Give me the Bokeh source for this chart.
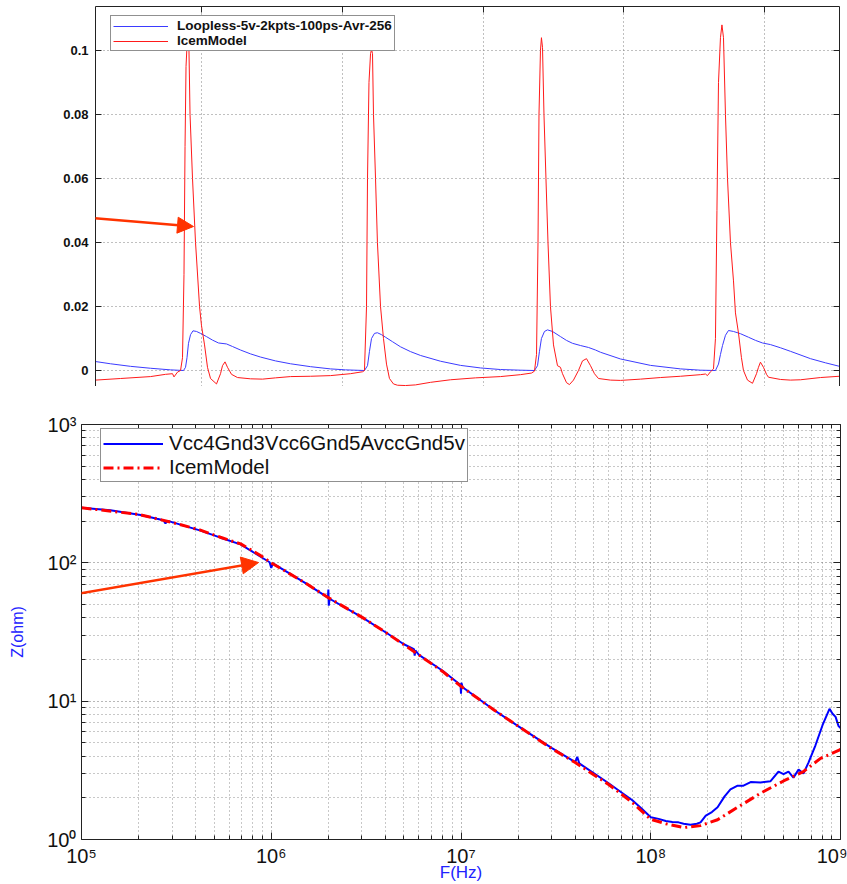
from bokeh.plotting import figure
from bokeh.models import (LinearAxis, FixedTicker, Legend, LegendItem, Arrow,
                          NormalHead, CustomJSTickFormatter, Range1d)
from bokeh.embed import file_html
from bokeh.resources import INLINE

# ---------------- top panel: time-domain current (time in ns) ----------------
red_t = [4.94, 8.49, 12.76, 14.89, 15.88, 16.09, 16.59, 17.02, 17.30, 17.51, 17.66, 17.80, 17.94,
         18.08, 18.22, 18.37, 18.72, 19.15, 19.72, 20.00, 20.43, 20.85, 21.28, 22.13, 22.70, 22.98,
         23.34, 23.69, 24.26, 25.11, 26.96, 28.66, 30.51, 32.64, 35.48, 38.32, 41.16, 42.87,
         43.15, 43.44, 43.58, 43.79, 44.01, 44.15, 44.29, 44.43, 44.72, 44.99, 45.43, 45.85, 46.28,
         46.70, 47.27, 47.84, 48.98, 50.40, 52.53, 55.37, 58.92, 62.47, 65.31, 66.88, 67.30,
         67.59, 67.80, 67.94, 68.15, 68.29, 68.44, 68.65, 68.93, 69.22, 69.57, 70.00, 70.57, 70.99,
         71.28, 71.85, 72.27, 72.84, 73.55, 74.12, 74.69, 75.26, 75.82, 76.39, 78.10, 79.52, 82.36,
         85.20, 88.04, 90.88, 91.59, 91.87, 92.30, 92.73,
         93.01, 93.22, 93.44, 93.72, 93.93, 94.15, 94.43, 94.72, 95.14, 95.57, 95.85, 96.28, 96.70,
         96.99, 97.56, 98.27, 98.84, 99.12, 99.40, 99.83, 100.26, 100.54, 102.24, 103.66, 105.09,
         107.93, 110.63]
red_i = [-0.0030, -0.0025, -0.0019, -0.0012, -0.0010, -0.0020, -0.0005, 0.0000, 0.0040, 0.0300,
         0.0700, 0.0950, 0.1015, 0.1025, 0.1000, 0.0800, 0.0600, 0.0400, 0.0200, 0.0140, 0.0080,
         0.0010, -0.0025, -0.0042, -0.0010, 0.0015, 0.0027, 0.0010, -0.0012, -0.0022, -0.0026,
         -0.0027, -0.0023, -0.0019, -0.0018, -0.0016, -0.0010, -0.0004,
         0.0000, 0.0200, 0.0600, 0.0900, 0.0990, 0.1003, 0.0990, 0.0800, 0.0600, 0.0400, 0.0200,
         0.0100, 0.0020, -0.0025, -0.0042, -0.0046, -0.0047, -0.0045, -0.0037, -0.0029, -0.0023,
         -0.0019, -0.0013, -0.0008, -0.0002,
         0.0050, 0.0400, 0.0800, 0.1000, 0.1040, 0.1010, 0.0800, 0.0600, 0.0400, 0.0200, 0.0080,
         0.0015, 0.0010, -0.0010, -0.0038, -0.0044, -0.0030, 0.0000, 0.0030, 0.0037, 0.0015,
         -0.0010, -0.0025, -0.0030, -0.0031, -0.0027, -0.0022, -0.0018, -0.0013, -0.0011, -0.0016,
         -0.0004, 0.0005,
         0.0100, 0.0500, 0.0900, 0.1040, 0.1080, 0.1040, 0.0800, 0.0600, 0.0400, 0.0280, 0.0180,
         0.0117, 0.0040, 0.0000, -0.0030, -0.0040, -0.0010, 0.0010, 0.0026, 0.0010, -0.0012,
         -0.0021, -0.0028, -0.0030, -0.0029, -0.0022, -0.0018]

blue_t = [4.94, 7.07, 9.91, 12.76, 15.60, 17.44, 17.73, 17.94, 18.15, 18.44, 18.79, 19.29, 19.86,
          20.71, 21.56, 22.41, 23.55, 24.40, 25.54, 26.96, 28.38, 30.51, 32.64, 35.48, 38.32, 40.45,
          43.15, 43.58, 43.86, 44.15, 44.57, 44.99, 45.57, 46.14, 47.13, 48.27, 49.69, 51.11, 53.95,
          56.79, 59.63, 62.47, 65.31,
          67.30, 67.73, 68.01, 68.29, 68.72, 69.15, 69.86, 70.99, 71.85, 72.70, 73.84, 74.97, 75.97,
          76.68, 79.52, 83.78, 88.04, 90.88,
          93.01, 93.44, 93.72, 94.01, 94.43, 94.86, 95.57, 96.56, 97.70, 98.71, 99.69, 100.82,
          102.24, 103.66, 106.51, 108.64, 110.63]
blue_i = [0.0028, 0.0021, 0.0013, 0.0007, 0.0002, 0.0000, 0.0010, 0.0040, 0.0085, 0.0112, 0.0124,
          0.0122, 0.0116, 0.0106, 0.0095, 0.0086, 0.0083, 0.0075, 0.0064, 0.0052, 0.0042, 0.0030,
          0.0021, 0.0012, 0.0005, 0.0002,
          0.0000, 0.0015, 0.0060, 0.0100, 0.0116, 0.0118, 0.0112, 0.0104, 0.0090, 0.0074, 0.0059,
          0.0047, 0.0029, 0.0016, 0.0008, 0.0003, 0.0001,
          0.0000, 0.0015, 0.0060, 0.0100, 0.0122, 0.0127, 0.0122, 0.0106, 0.0094, 0.0085, 0.0078,
          0.0072, 0.0064, 0.0057, 0.0036, 0.0016, 0.0005, 0.0001,
          0.0000, 0.0020, 0.0050, 0.0078, 0.0110, 0.0125, 0.0122, 0.0115, 0.0104, 0.0094, 0.0086,
          0.0081, 0.0071, 0.0060, 0.0037, 0.0024, 0.0013]

top_labels = ["Loopless-5v-2kpts-100ps-Avr-256", "IcemModel"]
top_yticks = [0, 0.02, 0.04, 0.06, 0.08, 0.1]
top_xticks = [20, 40, 60, 80, 100]

# ---------------- bottom panel: impedance vs frequency ----------------
blue_f = [1.00e5, 1.42e5, 2.05e5, 2.50e5, 2.70e5, 2.77e5, 2.85e5, 4.24e5, 5.40e5, 6.89e5, 8.57e5,
          9.80e5, 1.00e6, 1.02e6, 1.50e6, 1.99e6, 2.00e6, 2.01e6, 2.03e6, 3.00e6, 4.00e6, 5.00e6,
          5.65e6, 5.70e6, 5.75e6, 6.00e6, 8.00e6, 9.95e6, 1.00e7, 1.005e7, 1.02e7, 1.50e7, 2.00e7,
          3.00e7, 4.00e7, 4.10e7, 4.20e7, 6.00e7, 8.00e7, 9.00e7, 1.00e8, 1.10e8, 1.20e8, 1.30e8,
          1.40e8, 1.49e8, 1.62e8, 1.75e8, 1.83e8, 1.95e8, 2.10e8, 2.25e8, 2.45e8, 2.63e8, 2.87e8,
          3.08e8, 3.36e8, 3.79e8, 4.28e8, 4.71e8, 5.01e8, 5.32e8, 5.65e8, 6.01e8, 6.38e8, 6.78e8,
          7.38e8, 8.04e8, 8.75e8, 9.08e8, 9.42e8, 9.77e8, 1.00e9]
blue_z = [250, 240, 222, 208, 203, 193, 201, 171, 152, 136, 113, 101, 92, 99, 72, 56, 64, 49, 55,
          40.5, 31.5, 25.8, 23.8, 21.3, 23.3, 21.6, 16.6, 13.1, 11.3, 13.6, 12.6, 8.6, 6.6, 4.6,
          3.62, 3.95, 3.55, 2.55, 1.92, 1.66, 1.45, 1.41, 1.36, 1.34, 1.33, 1.30, 1.28, 1.30, 1.33,
          1.49, 1.58, 1.71, 2.05, 2.30, 2.45, 2.45, 2.60, 2.58, 2.64, 3.10, 2.97, 3.10, 2.80, 3.20,
          3.00, 3.60, 4.80, 6.70, 8.80, 8.10, 7.70, 6.60, 6.40]

red_f = [1e5, 2e5, 3e5, 4.2e5, 5.4e5, 6.9e5, 8.6e5, 1e6, 1.5e6, 2e6, 3e6, 4e6, 6e6, 8e6, 1e7,
         1.5e7, 2e7, 3e7, 4e7, 6e7, 8e7, 1e8, 1.2e8, 1.49e8, 1.83e8, 2.25e8, 2.87e8, 3.79e8,
         5.01e8, 6.38e8, 7.85e8, 9.77e8, 1e9]
red_z = [250, 224, 196, 173, 153, 137, 115, 100, 72, 56, 40.5, 31.5, 21.6, 16.4, 12.8, 8.6, 6.6,
         4.55, 3.6, 2.5, 1.85, 1.40, 1.30, 1.22, 1.26, 1.39, 1.71, 2.16, 2.65, 3.10, 3.86, 4.40, 4.50]

bot_labels = ["Vcc4Gnd3Vcc6Gnd5AvccGnd5v", "IcemModel"]
decades_x = [1e5, 1e6, 1e7, 1e8, 1e9]
decades_y = [1, 10, 100, 1000]

assert len(red_t) == len(red_i) and len(blue_t) == len(blue_i)
assert len(blue_f) == len(blue_z) and len(red_f) == len(red_z)

FONT = "Liberation Sans"
ARROW = "#ff3300"
LABEL_BLUE = "#2222ff"
AXC = "#222222"

blank_fmt = CustomJSTickFormatter(code="return '';")

# ================= top figure =================
p1 = figure(width=847, height=386, x_range=Range1d(4.94, 110.63), y_range=Range1d(-0.005, 0.11375),
            output_backend="svg", toolbar_location=None, x_axis_location="above",
            min_border_left=95, min_border_right=8, min_border_top=6, min_border_bottom=0)
p1.outline_line_color = None
p1.background_fill_color = "white"

ax_top = p1.xaxis[0]
ax_top.ticker = FixedTicker(ticks=top_xticks)
ax_top.formatter = blank_fmt
ax_top.major_label_text_font_size = "0px"
ax_top.major_label_standoff = 0
ax_top.major_tick_in = 6
ax_top.major_tick_out = 0
ax_top.minor_tick_in = 0
ax_top.minor_tick_out = 0
ax_top.axis_line_color = AXC
ax_top.major_tick_line_color = AXC

ay = p1.yaxis[0]
ay.ticker = FixedTicker(ticks=top_yticks)
ay.formatter = CustomJSTickFormatter(code="""
    if (Math.abs(tick) < 1e-12) return "0";
    let s = tick.toFixed(2);
    if (s.endsWith("0")) s = s.slice(0, -1);
    return s;
""")
ay.major_label_text_font = FONT
ay.major_label_text_font_style = "bold"
ay.major_label_text_font_size = "13px"
ay.major_label_text_color = "#111111"
ay.major_label_standoff = 7
ay.major_tick_in = 6
ay.major_tick_out = 0
ay.minor_tick_in = 0
ay.minor_tick_out = 0
ay.axis_line_color = AXC
ay.major_tick_line_color = AXC

ay_r = LinearAxis(ticker=FixedTicker(ticks=top_yticks), formatter=blank_fmt,
                  major_label_text_font_size="0px",
                  major_label_standoff=0, major_tick_in=6, major_tick_out=0,
                  minor_tick_in=0, minor_tick_out=0, axis_line_color=AXC,
                  major_tick_line_color=AXC)
p1.add_layout(ay_r, "right")

p1.xgrid.ticker = FixedTicker(ticks=top_xticks)
p1.ygrid.ticker = FixedTicker(ticks=top_yticks)
for g in (p1.xgrid[0], p1.ygrid[0]):
    g.grid_line_color = "#808080"
    g.grid_line_dash = "1 3"
    g.grid_line_width = 1

rb1 = p1.line(blue_t, blue_i, line_color="#3b3bff", line_width=1)
rr1 = p1.line(red_t, red_i, line_color="#ff1a1a", line_width=1)

leg1 = Legend(items=[LegendItem(label=top_labels[0], renderers=[rb1]),
                     LegendItem(label=top_labels[1], renderers=[rr1])],
              location=(15, 335), margin=0, padding=2, spacing=0,
              glyph_width=55, glyph_height=12, label_height=12, label_standoff=9,
              label_text_font=FONT, label_text_font_style="bold", label_text_font_size="13.5px",
              label_text_color="#111111", border_line_color=AXC, border_line_width=1,
              background_fill_color="white", background_fill_alpha=1.0)
p1.add_layout(leg1)

p1.add_layout(Arrow(end=NormalHead(size=16, fill_color=ARROW, line_color=ARROW),
                    x_start=-8.55, y_start=0.0500, x_end=18.86, y_end=0.0450,
                    line_color=ARROW, line_width=2.5))

# ================= bottom figure =================
p2 = figure(width=847, height=498, x_axis_type="log", y_axis_type="log",
            x_range=Range1d(1e5, 1e9), y_range=Range1d(1, 1000),
            output_backend="svg", toolbar_location=None,
            min_border_left=81, min_border_right=7, min_border_top=38, min_border_bottom=42)
p2.outline_line_color = None
p2.background_fill_color = "white"

minor_x = [m * d for d in decades_x[:-1] for m in range(2, 10)]
minor_y = [m * d for d in decades_y[:-1] for m in range(2, 10)]

sup_fmt = CustomJSTickFormatter(code="""
    const sup = {"0":"\u2070","1":"\u00b9","2":"\u00b2","3":"\u00b3","4":"\u2074",
                 "5":"\u2075","6":"\u2076","7":"\u2077","8":"\u2078","9":"\u2079","-":"\u207b"};
    const e = String(Math.round(Math.log10(tick)));
    let s = "";
    for (const c of e) s += sup[c];
    return "10" + s;
""")

def style_axis(ax, labels=True):
    ax.major_tick_in = 7
    ax.major_tick_out = 0
    ax.minor_tick_in = 4
    ax.minor_tick_out = 0
    ax.axis_line_color = AXC
    ax.major_tick_line_color = AXC
    ax.minor_tick_line_color = AXC
    if labels:
        ax.formatter = sup_fmt
        ax.major_label_text_font = FONT
        ax.major_label_text_font_size = "20px"
        ax.major_label_text_color = "#111111"
    else:
        ax.formatter = blank_fmt
        ax.major_label_text_font_size = "0px"
        ax.major_label_standoff = 0

bx = p2.xaxis[0]
bx.ticker = FixedTicker(ticks=decades_x, minor_ticks=minor_x)
style_axis(bx)
bx.major_label_standoff = 5
bx.axis_label = "F(Hz)"
bx.axis_label_text_font = FONT
bx.axis_label_text_font_style = "normal"
bx.axis_label_text_font_size = "17px"
bx.axis_label_text_color = LABEL_BLUE
bx.axis_label_standoff = -7

by = p2.yaxis[0]
by.ticker = FixedTicker(ticks=decades_y, minor_ticks=minor_y)
style_axis(by)
by.major_label_standoff = 5
by.axis_label = "Z(ohm)"
by.axis_label_text_font = FONT
by.axis_label_text_font_style = "normal"
by.axis_label_text_font_size = "16px"
by.axis_label_text_color = LABEL_BLUE
by.axis_label_standoff = 18

bx_top = LinearAxis(ticker=FixedTicker(ticks=decades_x, minor_ticks=minor_x))
style_axis(bx_top, labels=False)
p2.add_layout(bx_top, "above")
by_r = LinearAxis(ticker=FixedTicker(ticks=decades_y, minor_ticks=minor_y))
style_axis(by_r, labels=False)
p2.add_layout(by_r, "right")

p2.xgrid.ticker = FixedTicker(ticks=decades_x, minor_ticks=minor_x)
p2.ygrid.ticker = FixedTicker(ticks=decades_y, minor_ticks=minor_y)
for g in (p2.xgrid[0], p2.ygrid[0]):
    g.grid_line_color = "#707070"
    g.grid_line_dash = "1 3"
    g.grid_line_width = 1
    g.minor_grid_line_color = "#909090"
    g.minor_grid_line_dash = "1 3"
    g.minor_grid_line_width = 1

rb2 = p2.line(blue_f, blue_z, line_color="#0000ff", line_width=2)
rr2 = p2.line(red_f, red_z, line_color="#ff0000", line_width=3, line_dash="10 4 2 4")

leg2 = Legend(items=[LegendItem(label=bot_labels[0], renderers=[rb2]),
                     LegendItem(label=bot_labels[1], renderers=[rr2])],
              location=(19, 357), margin=0, padding=2, spacing=0,
              glyph_width=60, glyph_height=17, label_height=17, label_standoff=6,
              label_text_font=FONT, label_text_font_size="20.5px",
              label_text_color="#111111",
              border_line_color=AXC, border_line_width=1,
              background_fill_color="white", background_fill_alpha=1.0)
p2.add_layout(leg2)

p2.add_layout(Arrow(end=NormalHead(size=17, fill_color=ARROW, line_color=ARROW),
                    x_start=3.74e4, y_start=47.8, x_end=8.57e5, y_end=100.5,
                    line_color=ARROW, line_width=2.5))

open("out.html", "w").write(file_html([p1, p2], INLINE))
